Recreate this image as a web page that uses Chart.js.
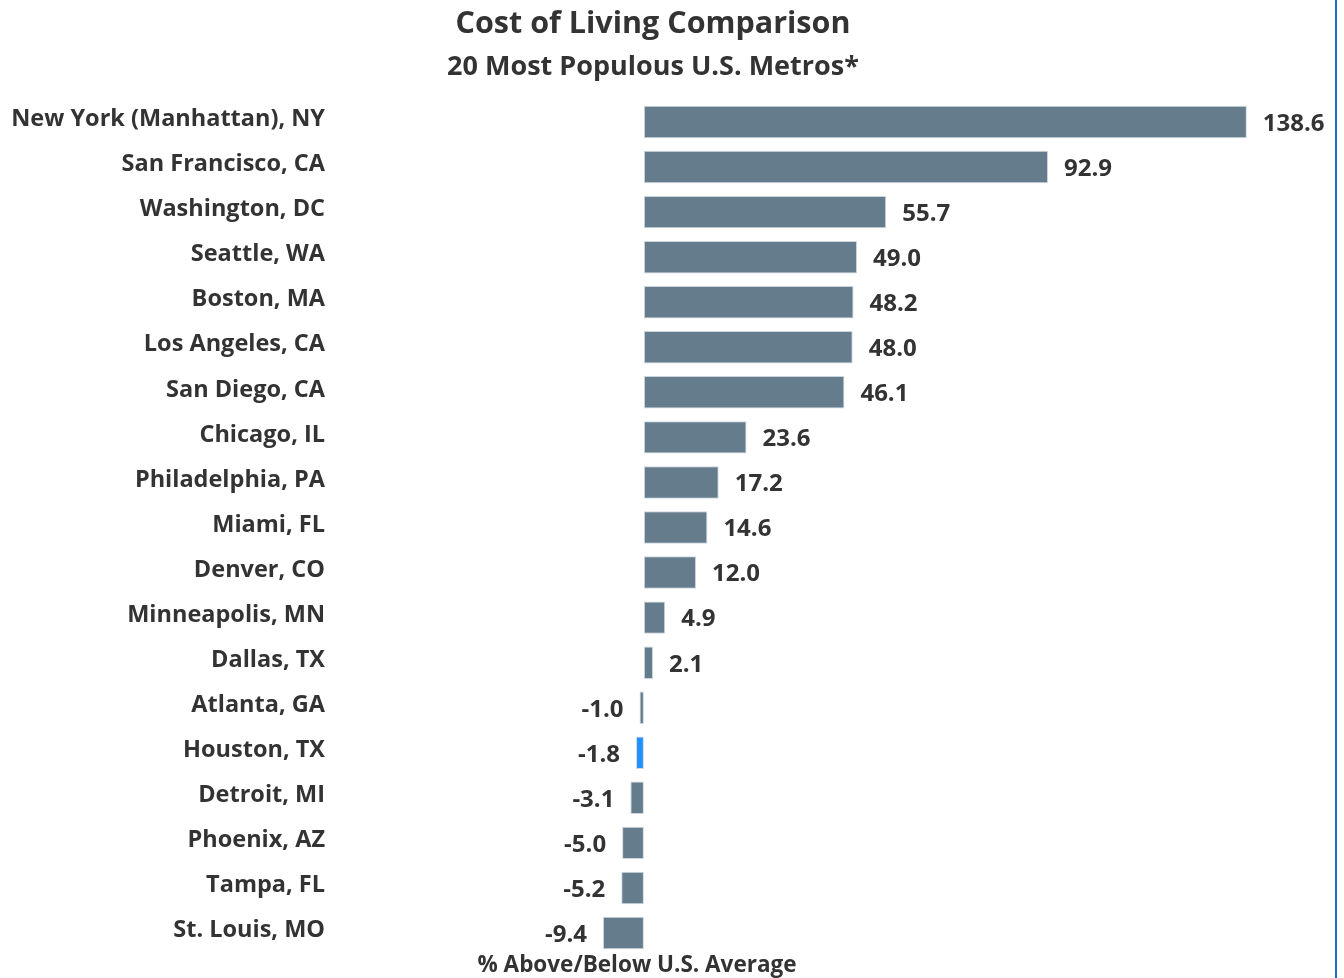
<!DOCTYPE html>
<html>
<head>
<meta charset="utf-8">
<title>Cost of Living Comparison</title>
<script src="https://cdn.jsdelivr.net/npm/chart.js@4"></script>
<style>
  html, body { margin: 0; padding: 0; background: #fff; }
  #wrap { width: 1335px; height: 978px; border-right: 2px solid #1a6ec8; }
  canvas { display: block; }
</style>
</head>
<body>
<div id="wrap"><canvas id="chartCosto" width="1335" height="978"></canvas></div>
<script>
// Metros y diferencia (%) frente al promedio de EE.UU.
const ciudades = [
  "New York (Manhattan), NY", "San Francisco, CA", "Washington, DC", "Seattle, WA",
  "Boston, MA", "Los Angeles, CA", "San Diego, CA", "Chicago, IL", "Philadelphia, PA",
  "Miami, FL", "Denver, CO", "Minneapolis, MN", "Dallas, TX", "Atlanta, GA",
  "Houston, TX", "Detroit, MI", "Phoenix, AZ", "Tampa, FL", "St. Louis, MO",
];
const valores = [138.6, 92.9, 55.7, 49.0, 48.2, 48.0, 46.1, 23.6, 17.2, 14.6, 12.0, 4.9, 2.1, -1.0, -1.8, -3.1, -5.0, -5.2, -9.4];
const destacada = "Houston, TX";

const COLOR_BARRA = "#647c8c";
const COLOR_DESTACADA = "#1e90ff";
const COLOR_TEXTO = "#333333";
const FUENTE = "'Open Sans', sans-serif";

// 🔹 Etiquetas de valor y título del eje X
const etiquetas = {
  id: "etiquetas",
  afterDatasetsDraw(chart) {
    const ctx = chart.ctx;
    const meta = chart.getDatasetMeta(0);
    ctx.save();
    ctx.font = `bold 24px ${FUENTE}`;
    ctx.fillStyle = COLOR_TEXTO;
    ctx.textBaseline = "middle";
    meta.data.forEach((bar, i) => {
      const v = valores[i];
      const txt = v.toFixed(1);
      if (v >= 0) {
        ctx.textAlign = "left";
        ctx.fillText(txt, bar.x + 16, bar.y + 2);
      } else {
        ctx.textAlign = "right";
        ctx.fillText(txt, bar.x - 16, bar.y + 2);
      }
    });
    ctx.textAlign = "center";
    ctx.font = `bold 22.5px ${FUENTE}`;
    ctx.fillText("% Above/Below U.S. Average", 637, 966);
    ctx.restore();
  },
};

const ctx = document.getElementById("chartCosto").getContext("2d");
new Chart(ctx, {
  type: "bar",
  data: {
    labels: ciudades,
    datasets: [
      {
        data: valores,
        backgroundColor: ciudades.map((c) => (c === destacada ? COLOR_DESTACADA : COLOR_BARRA)),
        borderColor: "rgba(200,210,216,0.9)",
        borderWidth: 1,
        borderSkipped: false,
        categoryPercentage: 0.72,
        barPercentage: 1,
      },
    ],
  },
  options: {
    indexAxis: "y",
    responsive: false,
    animation: false,
    layout: { padding: { top: 0, right: 29, bottom: 22.5, left: 0 } },
    scales: {
      x: {
        display: false,
        min: -71,
        max: 152.2,
      },
      y: {
        grid: { display: false, drawTicks: false },
        border: { display: false },
        ticks: {
          color: COLOR_TEXTO,
          font: { family: FUENTE, size: 23.5, weight: "bold" },
          padding: 10,
          labelOffset: -2.5,
          autoSkip: false,
        },
        afterFit(scale) {
          scale.width = 335;
          // sin relleno extra por las etiquetas extremas
          scale.paddingTop = 0;
          scale.paddingBottom = 0;
        },
      },
    },
    plugins: {
      legend: { display: false },
      tooltip: { enabled: false },
      title: {
        display: true,
        text: "Cost of Living Comparison",
        color: COLOR_TEXTO,
        font: { family: FUENTE, size: 30.5, weight: "bold", lineHeight: 1.2 },
        padding: { top: 6, bottom: 4 },
      },
      subtitle: {
        display: true,
        text: "20 Most Populous U.S. Metros*",
        color: COLOR_TEXTO,
        font: { family: FUENTE, size: 27, weight: "bold", lineHeight: 1.2 },
        padding: { top: 5, bottom: 15.5 },
      },
    },
  },
  plugins: [etiquetas],
});
</script>
</body>
</html>
